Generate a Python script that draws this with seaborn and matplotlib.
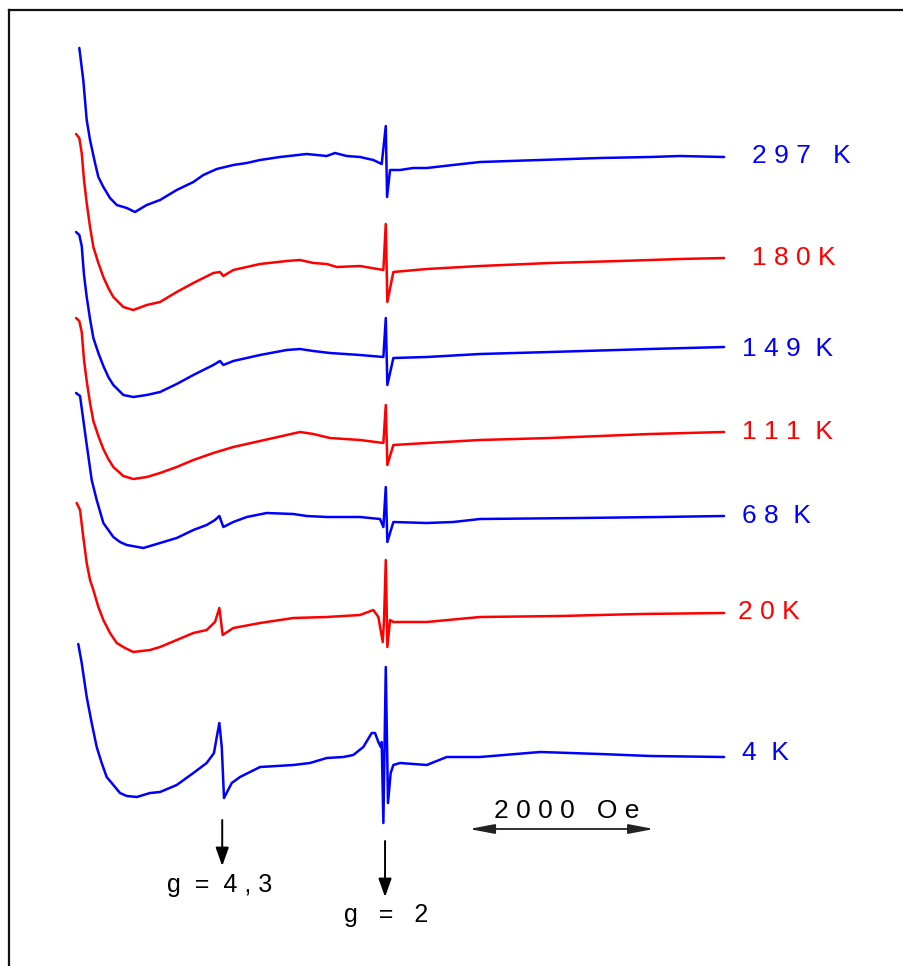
import numpy as np
import matplotlib
matplotlib.use("Agg")
import matplotlib.pyplot as plt
import seaborn as sns

# EPR derivative spectra: magnetic field (Oe) and signal (a.u.) per temperature
field_297 = [55, 98, 135, 171, 225, 261, 315, 387, 460, 568, 657, 784, 928, 1108, 1288,
             1396, 1541, 1720, 1865, 2009, 2225, 2513, 2730, 2819, 2946, 3090, 3233, 3324,
             3368, 3382, 3414, 3522, 3663, 3811, 4095, 4387, 5036, 5684, 6225, 6549, 7025]
signal_297 = [109, 77, 37, 17, -6, -20, -30, -41, -48, -51, -55, -48, -43, -33, -25,
              -18, -12, -8, -6, -3, 0, 3, 1, 4, 1, 0, -3, -7,
              31, -40, -13, -13, -11, -11, -8, -5, -3, -1, 0, 1, 0]

field_180 = [20, 55, 81, 106, 135, 171, 207, 261, 315, 369, 423, 531, 639, 784, 928,
             1108, 1288, 1504, 1576, 1612, 1720, 2009, 2297, 2441, 2585, 2730, 2838, 3090,
             3342, 3368, 3385, 3450, 3811, 4387, 5144, 5900, 6549, 7025]
signal_180 = [124, 120, 105, 78, 55, 31, 11, -5, -19, -30, -39, -49, -52, -47, -44,
              -34, -25, -15, -14, -18, -12, -6, -3, -2, -5, -6, -9, -8,
              -12, 34, -44, -14, -11, -8, -5, -3, -1, 0]

field_149 = [20, 55, 81, 106, 135, 171, 207, 261, 315, 369, 423, 531, 639, 784, 928,
             1108, 1288, 1504, 1576, 1612, 1720, 2009, 2297, 2441, 2585, 2765, 3090,
             3342, 3368, 3385, 3450, 3811, 4387, 5144, 6225, 7025]
signal_149 = [115, 112, 101, 72, 50, 28, 9, -6, -19, -30, -38, -48, -50, -48, -45,
              -37, -28, -18, -14, -18, -14, -8, -3, -2, -4, -6, -8,
              -10, 29, -38, -11, -10, -7, -5, -2, 0]

field_111 = [20, 55, 81, 106, 135, 171, 207, 261, 315, 369, 423, 531, 639, 784, 928,
             1108, 1288, 1504, 1720, 2009, 2297, 2441, 2585, 2765, 3090,
             3342, 3368, 3385, 3450, 3811, 4387, 5144, 6225, 7025]
signal_111 = [114, 111, 100, 72, 51, 29, 11, -4, -17, -27, -35, -44, -47, -45, -41,
              -35, -28, -21, -15, -9, -3, 0, -2, -6, -8,
              -11, 27, -33, -13, -11, -8, -6, -2, 0]

field_68 = [20, 63, 128, 189, 243, 315, 369, 423, 495, 568, 747, 928, 1108, 1288, 1432,
            1522, 1569, 1612, 1720, 1865, 2081, 2369, 2513, 2730, 2909, 3090, 3306,
            3342, 3368, 3385, 3450, 3811, 4098, 4387, 5468, 6333, 7025]
signal_68 = [123, 120, 76, 36, 16, -7, -14, -21, -26, -29, -32, -27, -22, -14, -9,
             -4, 0, -11, -6, -1, 3, 2, 0, -1, -1, -1, -3,
             -11, 29, -26, -6, -7, -6, -3, -2, -1, 0]

field_20 = [27, 63, 98, 135, 171, 207, 261, 315, 387, 460, 549, 639, 820, 928, 1108,
            1288, 1432, 1522, 1569, 1605, 1720, 2009, 2369, 2730, 3090, 3233, 3288,
            3335, 3349, 3368, 3385, 3414, 3450, 3811, 4387, 5252, 6117, 7025]
signal_20 = [110, 103, 76, 50, 33, 23, 6, -7, -20, -30, -35, -39, -37, -34, -27,
             -20, -17, -9, 5, -22, -15, -10, -5, -4, -2, 3, -4,
             -29, -7, 53, -34, -7, -9, -9, -4, -3, -1, 0]

field_4 = [44, 81, 135, 189, 243, 297, 351, 423, 495, 568, 676, 820, 928, 1108, 1288,
           1432, 1511, 1541, 1569, 1595, 1619, 1703, 1792, 2009, 2189, 2369, 2549, 2730,
           2909, 3017, 3125, 3216, 3252, 3288, 3314, 3324, 3342, 3368, 3392, 3421, 3450,
           3522, 3811, 4027, 4387, 5036, 5684, 6225, 7025]
signal_4 = [113, 94, 60, 34, 10, -6, -20, -28, -36, -39, -40, -36, -35, -28, -16,
            -6, 4, 20, 34, 10, -41, -26, -20, -10, -9, -8, -6, -1,
            0, 2, 10, 24, 24, 15, 10, 15, -66, 90, -46, -16, -8,
            -6, -8, 0, 0, 5, 3, 1, 0]

fields = [field_297, field_180, field_149, field_111, field_68, field_20, field_4]
signals = [signal_297, signal_180, signal_149, signal_111, signal_68, signal_20, signal_4]
temp_labels = ["2 9 7   K", "1 8 0 K", "1 4 9  K", "1 1 1  K", "6 8  K", "2 0 K", "4  K"]
colors = ["#0000ff", "#ff0000", "#0000ff", "#ff0000", "#0000ff", "#ff0000", "#0000ff"]

# vertical stacking of the spectra and label anchors
offsets = [809, 708, 619, 534, 450, 353, 209]
label_x = [7327, 7327, 7219, 7219, 7219, 7176, 7219]
label_y = [810, 708, 617, 534, 450, 354, 213]

sns.set_style("white")
plt.rcParams["font.family"] = ["Liberation Sans", "DejaVu Sans"]
plt.rcParams["text.color"] = "black"

fig = plt.figure(figsize=(9.04, 9.66), dpi=100)
ax = fig.add_axes([9 / 904, 0, 1 - 9 / 904, 956 / 966])

for f, s, off, c in zip(fields, signals, offsets, colors):
    sns.lineplot(x=f, y=np.asarray(s) + off, color=c, lw=1.8,
                 sort=False, estimator=None, ax=ax)

for txt, x, y, c in zip(temp_labels, label_x, label_y, colors):
    ax.text(x, y, txt, color=c, fontsize=19, ha="left", va="center")

# g-value markers
arrow_kw = dict(arrowstyle="-|>,head_length=0.7,head_width=0.25", color="black",
                lw=1.4, mutation_scale=16, shrinkA=0, shrinkB=0)
ax.annotate("", xy=(1600, 100), xytext=(1600, 146), arrowprops=arrow_kw)
ax.text(1576, 81, "g  =  4 , 3", fontsize=18, ha="center", va="center")
ax.annotate("", xy=(3360, 69), xytext=(3360, 125), arrowprops=arrow_kw)
ax.text(3371, 51, "g   =   2", fontsize=18, ha="center", va="center")

# field scale bar
ax.annotate("", xy=(4268, 137), xytext=(6268, 137),
            arrowprops=dict(arrowstyle="<|-|>,head_length=0.85,head_width=0.16",
                            color="#222222", lw=1.3, mutation_scale=18,
                            shrinkA=0, shrinkB=0))
ax.text(5322, 155, "2 0 0 0   O e", fontsize=19, ha="center", va="center")

ax.set_xlim(-705, 8970)
ax.set_ylim(0, 956)
ax.set_xticks([])
ax.set_yticks([])
ax.set_xlabel("")
ax.set_ylabel("")
for side in ["right", "bottom"]:
    ax.spines[side].set_visible(False)
for side in ["left", "top"]:
    ax.spines[side].set_linewidth(1.6)
    ax.spines[side].set_color("#111111")

fig.savefig("out.png", dpi=100)
